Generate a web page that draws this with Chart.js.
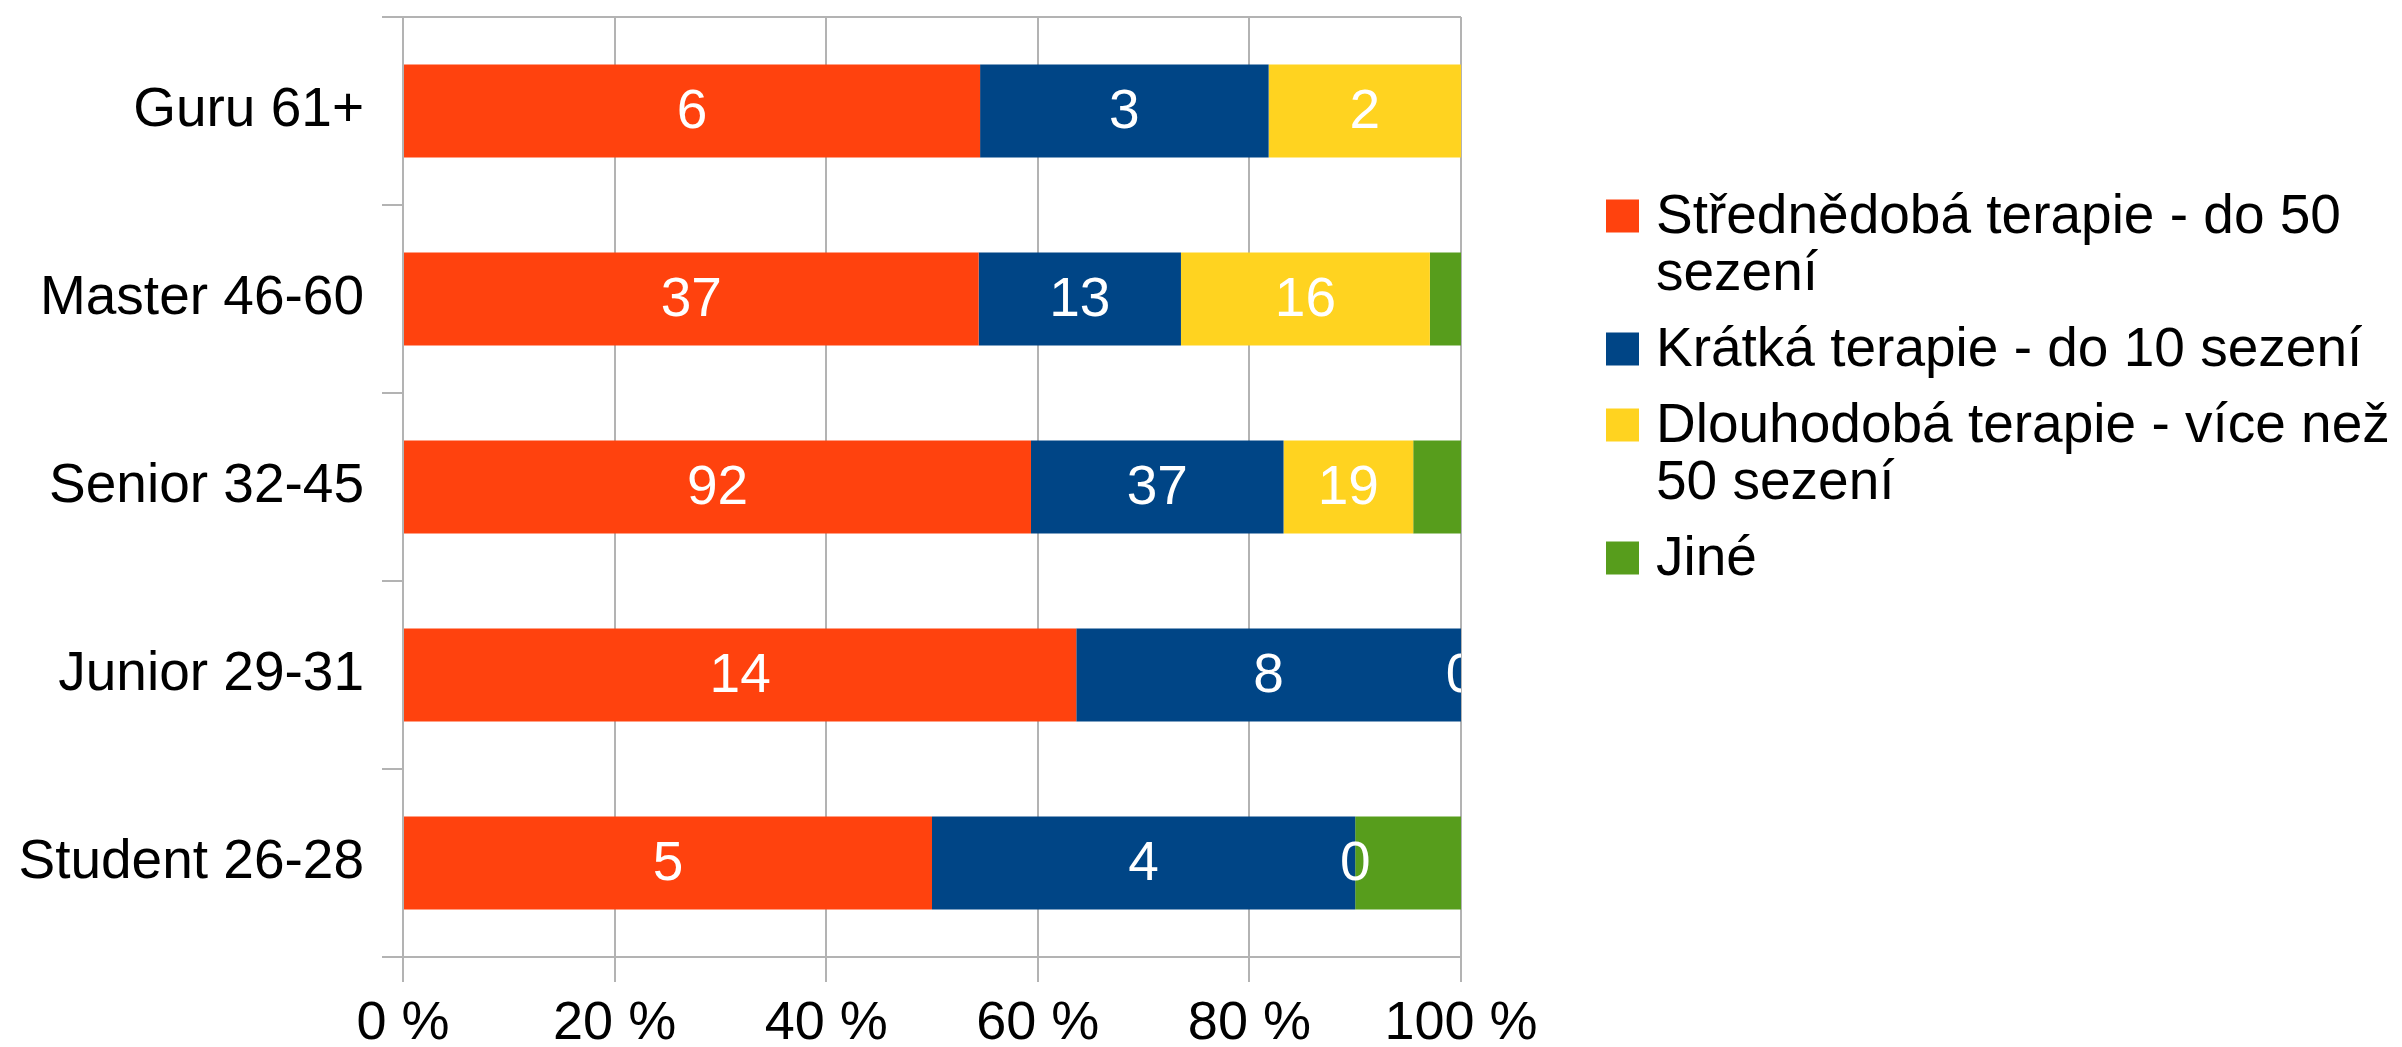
<!DOCTYPE html>
<html lang="cs">
<head>
<meta charset="utf-8">
<script src="https://cdn.jsdelivr.net/npm/chart.js"></script>
<style>
	body { margin: 0; background: #fff; }
	#wrap { width: 2402px; height: 1047px; }
</style>
</head>
<body>
<div id="wrap"><canvas id="graf" width="2402" height="1047"></canvas></div>
<script>
// Kategorie a počty odpovědí
const kategorie = ["Guru 61+", "Master 46-60", "Senior 32-45", "Junior 29-31", "Student 26-28"];
const stredni = [6, 37, 92, 14, 5];
const kratka = [3, 13, 37, 8, 4];
const dlouha = [2, 16, 19, 0, 0];
const jine = [0, 2, 7, 0, 1];
const nazvy = [
	["Střednědobá terapie - do 50", "sezení"],
	["Krátká terapie - do 10 sezení"],
	["Dlouhodobá terapie - více než", "50 sezení"],
	["Jiné"]
];
const barvy = ["#FF420E", "#004586", "#FFD320", "#579D1C"];
const osaX = [0, 20, 40, 60, 80, 100];

const FONT = "Liberation Sans, Arial, sans-serif";
const SEDA = "#b3b3b3";

const serie = [stredni, kratka, dlouha, jine];
const souhrn = kategorie.map((_, i) => serie.reduce((s, a) => s + a[i], 0));
const podily = (a) => a.map((v, i) => (v / souhrn[i]) * 100);

// Popisky s počty uvnitř pruhů (zelená řada bez popisků)
const popiskyPlugin = {
	id: "popisky",
	afterDatasetsDraw(chart) {
		const c = chart.ctx;
		const a = chart.chartArea;
		c.save();
		c.beginPath();
		c.rect(a.left, a.top, a.right - a.left, a.bottom - a.top);
		c.clip();
		c.fillStyle = "#fff";
		c.font = "55px " + FONT;
		c.textAlign = "center";
		c.textBaseline = "middle";
		for (let d = 0; d < 3; d++) {
			const meta = chart.getDatasetMeta(d);
			meta.data.forEach((el, i) => {
				const p = el.getProps(["x", "y", "base"], true);
				c.fillText(String(serie[d][i]), (p.x + p.base) / 2, p.y + 2);
			});
		}
		c.restore();
	}
};

// Legenda vpravo, víceřádková
const legendaPlugin = {
	id: "legenda",
	afterDraw(chart) {
		const c = chart.ctx;
		const x0 = 1606;
		const vel = 33;
		const radek = 57;
		const mezera = 19;
		let y = 216;
		c.save();
		c.font = "55px " + FONT;
		c.textBaseline = "middle";
		c.textAlign = "left";
		nazvy.forEach((lines, i) => {
			c.fillStyle = barvy[i];
			c.fillRect(x0, y - vel / 2, vel, vel);
			c.fillStyle = "#000";
			lines.forEach((t, j) => {
				c.fillText(t, x0 + 50, y + j * radek + 2);
			});
			y += lines.length * radek + mezera;
		});
		c.restore();
	}
};

new Chart(document.getElementById("graf"), {
	type: "bar",
	data: {
		labels: kategorie,
		datasets: serie.map((s, i) => ({
			label: nazvy[i].join(" "),
			data: podily(s),
			backgroundColor: barvy[i],
			borderWidth: 0,
			barPercentage: 0.495,
			categoryPercentage: 1
		}))
	},
	options: {
		indexAxis: "y",
		responsive: false,
		animation: false,
		layout: { padding: { top: 17, right: 941, left: 0, bottom: 0 } },
		plugins: {
			legend: { display: false },
			tooltip: { enabled: false }
		},
		scales: {
			x: {
				stacked: true,
				min: 0,
				max: 100,
				afterBuildTicks: (s) => {
					s.ticks = osaX.map((v) => ({ value: v }));
				},
				afterFit: (s) => {
					s.height = 90;
				},
				ticks: {
					color: "#000",
					font: { family: FONT, size: 54 },
					padding: 10,
					callback: (v) => v + " %"
				},
				grid: {
					color: SEDA,
					lineWidth: 2,
					tickLength: 25,
					tickColor: SEDA
				},
				border: { color: SEDA, width: 2 }
			},
			y: {
				stacked: true,
				afterFit: (s) => {
					s.width = 403;
					s.paddingTop = 0;
					s.paddingBottom = 0;
				},
				ticks: {
					color: "#000",
					font: { family: FONT, size: 55 },
					padding: 18
				},
				grid: {
					offset: true,
					lineWidth: 2,
					tickLength: 21,
					tickColor: SEDA,
					color: (ctx) =>
						ctx.index === 0 || ctx.index === kategorie.length ? SEDA : "rgba(0,0,0,0)"
				},
				border: { color: SEDA, width: 2 }
			}
		}
	},
	plugins: [popiskyPlugin, legendaPlugin]
});
</script>
</body>
</html>
